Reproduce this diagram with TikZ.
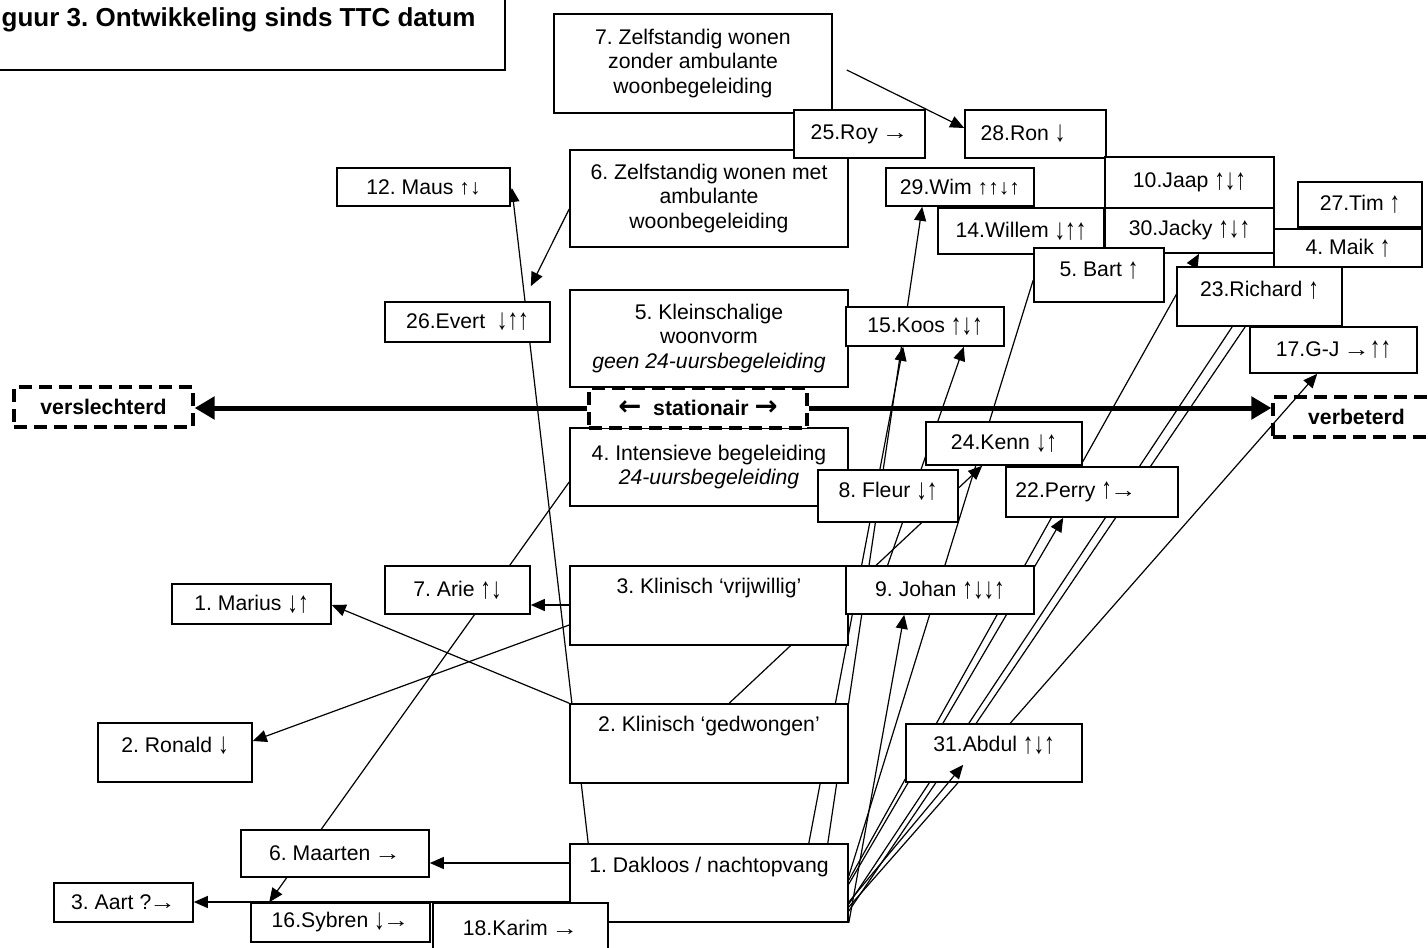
\documentclass[tikz,border=0pt]{standalone}
\usepackage{fontspec}
\usepackage{newunicodechar}
\setmainfont{Liberation Sans}
\newfontfamily\symfont{DejaVu Sans}
\usetikzlibrary{calc,arrows.meta}
\pgfdeclarelayer{bg}
\pgfsetlayers{bg,main}
\frenchspacing
\newcommand\boxfont{\fontsize{10.6}{12.3}\selectfont}
\newcommand\titlefont{\fontsize{13}{15}\selectfont\bfseries}
\newcommand\up{\symbol{"2191}}
\newcommand\dn{\symbol{"2193}}
\newcommand\tallarr[1]{\raisebox{-0.8pt}{\scalebox{1}[1.4]{\symbol{#1}}}}
\newunicodechar{↑}{\tallarr{"2191}}
\newunicodechar{↓}{\tallarr{"2193}}
\newunicodechar{→}{\kern-1pt\scalebox{1.25}[1]{\symbol{"2192}}}

\tikzset{
  box/.style={draw, line width=0.8pt, fill=white, inner sep=0pt, font=\boxfont, align=center},
  sz/.style 2 args={minimum width=#1*0.5pt, minimum height=#2*0.5pt},
  lift/.style={text height=7.7pt, text depth=#1},
  dashbox/.style={draw, line width=1.6pt, dash pattern=on 6.5pt off 3.5pt, inner sep=0pt, font=\boxfont\bfseries},
  lnk/.style={line width=0.6pt},
  arr/.style={line width=0.6pt, -{Triangle[length=7pt,width=6pt]}},
  bigarr/.style={line width=2.5pt, -{Triangle[length=10pt,width=11pt]}}
}

\begin{document}
\begin{tikzpicture}[x=0.5pt, y=-0.5pt]
\useasboundingbox (0,0) rectangle (1428,947);
\clip (0,0) rectangle (1428,947);

% title
\node[box, font=\titlefont, sz={556}{100}] (title) at (227,20) {Figuur 3. Ontwikkeling sinds TTC datum};

% woonvormen
\node[box, sz={278}{99}] (zelf7) at (693,63.5) {7. Zelfstandig wonen\\zonder ambulante\\woonbegeleiding};
\node[box, sz={278}{97}] (zelf6) at (709,198.5) {6. Zelfstandig wonen met\\ambulante\\woonbegeleiding};
\node[box, sz={278}{97}] (klein5) at (709,338.5) {5. Kleinschalige\\woonvorm\\\textit{geen 24-uursbegeleiding}};
\node[box, sz={278}{78}] (intens4) at (709,467) {4. Intensieve begeleiding\\\textit{24-uursbegeleiding}};
\node[box, sz={278}{79}, lift=20.2pt] (klin3) at (709,605.5) {3. Klinisch ‘vrijwillig’};
\node[box, sz={278}{79}, lift=20.2pt] (klin2) at (709,743.5) {2. Klinisch ‘gedwongen’};
\node[box, sz={278}{78}, lift=18.7pt] (dak1) at (709,883) {1. Dakloos / nachtopvang};
\node[dashbox, fill=white, sz={218}{40}] (stat) at (698,408) {\scalebox{1.3}{\symfont\symbol{"2190}}\ \ stationair\ \scalebox{1.3}{\symfont\symbol{"2192}}};
\node[dashbox, sz={179}{40}] (versl) at (103.5,407) {verslechterd};
\node[dashbox, sz={167}{40}] (verb) at (1356.5,417) {verbeterd};

% clienten
\node[box, sz={131}{48}] (roy) at (859.5,134) {25.Roy →};
\node[box, sz={141}{48}] (ron) at (1035.5,134) {28.Ron ↓\hspace*{12.5pt}};
\node[box, sz={173}{38}] (maus) at (423.5,187) {12. Maus \up\dn};
\node[box, sz={148}{38}] (wim) at (960,187) {29.Wim \up\up\dn\up};
\node[box, sz={169}{51}] (jaap) at (1189.5,182.5) {10.Jaap ↑↓↑};
\node[box, sz={166}{46}] (willem) at (1021,231) {14.Willem ↓↑↑};
\node[box, sz={169}{45}] (jacky) at (1189.5,230.5) {30.Jacky ↑↓↑};
\node[box, sz={124}{45}] (tim) at (1360,204.5) {27.Tim ↑};
\node[box, sz={148}{38}] (maik) at (1348,248) {4. Maik ↑};
\node[box, sz={130}{54}, lift=6pt] (bart) at (1099,275) {5. Bart ↑};
\node[box, sz={165}{59}, lift=7.7pt] (richard) at (1259.5,296.5) {23.Richard ↑};
\node[box, sz={167}{46}] (gj) at (1333.5,350) {17.G-J →↑↑};
\node[box, sz={158}{39}] (koos) at (925,326.5) {15.Koos ↑↓↑};
\node[box, sz={165}{40}] (evert) at (467.5,322) {26.Evert\ \ ↓↑↑};
\node[box, sz={156}{43}] (kenn) at (1004,443.5) {24.Kenn ↓↑};
\node[box, sz={172}{50}] (perry) at (1092,492) {22.Perry ↑→\hspace*{16pt}};
\node[box, sz={140}{52}, lift=6pt] (fleur) at (888,496) {8. Fleur ↓↑};
\node[box, sz={188}{48}] (johan) at (940,590) {9. Johan ↑↓↓↑};
\node[box, sz={145}{48}] (arie) at (457.5,590) {7. Arie ↑↓};
\node[box, sz={159}{40}] (marius) at (251.5,604) {1. Marius ↓↑};
\node[box, sz={154}{59}, lift=8.2pt] (ronald) at (175,752.5) {2. Ronald ↓};
\node[box, sz={176}{58}, lift=9pt] (abdul) at (994,753) {31.Abdul ↑↓↑};
\node[box, sz={188}{47}] (maarten) at (335,853.5) {6. Maarten →};
\node[box, sz={139}{39}] (aart) at (123.5,902.5) {3. Aart ?→};
\node[box, sz={179}{39}] (sybren) at (340.5,922.5) {16.Sybren ↓→};
\node[box, sz={175}{50}] (karim) at (520.5,928) {18.Karim →};

\draw[arr] ($(dak1.east)+(0,19)$) -- ($(abdul.south west)+(58,-18)$);

\begin{pgfonlayer}{bg}
% as verslechterd - verbeterd
\draw[bigarr] (stat.west) -- (stat.west -| versl.east);
\draw[bigarr] (stat.east) -- (stat.east -| verb.west);

% naar links
\draw[arr] ($(zelf6.west)+(0,10.5)$) -- ($(evert.north east)+(-20,-15)$);
\draw[arr] ($(dak1.north west)+(19,0)$) -- ($(maus.east)+(1,1)$);
\draw[arr] ($(klin3.west)+(0,-0.5)$) -- ($(arie.east)+(0,15)$);
\draw[arr] (klin2.north west) -- ($(marius.east)+(0,1)$);
\draw[arr] ($(klin3.west)+(0,19.5)$) -- ($(ronald.east)+(0,-11.5)$);
\draw[arr] ($(dak1.west)+(0,-20)$) -- ($(maarten.east)+(0,9.5)$);
\draw[arr] ($(dak1.west)+(0,19)$) -- ($(aart.east)+(0,-0.5)$);
\draw[arr] ($(intens4.west)+(0,15)$) -- ($(sybren.north west)+(19,0)$);
\draw[arr] ($(zelf7.east)+(14,6.5)$) -- ($(ron.west)+(0,-6)$);

% naar rechts
\draw[arr] ($(dak1.north east)+(-40,0)$) -- ($(koos.south west)+(58,0)$);
\draw[arr] ($(dak1.north east)+(-21,0)$) -- ($(wim.south west)+(37,0)$);
\draw[arr] ($(johan.south west)+(30,-14)$) -- ($(koos.south east)+(-41,0)$);
\draw[arr] ($(klin2.north west)+(160,0)$) -- ($(kenn.south west)+(57,0)$);
\draw[lnk] ($(dak1.east)+(0,-7)$) -- ($(bart.west)+(0,5)$);
\draw[arr] ($(dak1.east)+(0,-3)$) -- ($(jacky.south)+(9.5,0)$);
\draw[arr] ($(dak1.east)+(0,1)$) -- ($(perry.south west)+(58,0)$);
\draw[arr] (dak1.south east) -- ($(johan.south west)+(59,0)$);
\draw[lnk] ($(dak1.east)+(0,21)$) -- ($(richard.south west)+(56,0)$);
\draw[lnk] ($(dak1.east)+(0,28)$) -- ($(richard.south west)+(69,0)$);
\draw[arr] ($(dak1.east)+(0,24)$) -- ($(gj.south west)+(68,0)$);
\end{pgfonlayer}
\end{tikzpicture}
\end{document}
